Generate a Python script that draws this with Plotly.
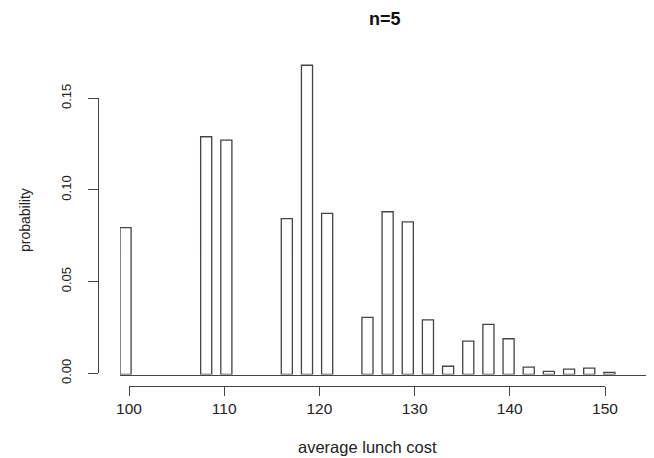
import plotly.graph_objects as go

# data
costs = [100, 108, 110, 116, 118, 120, 124, 126, 128, 130, 132, 134, 136, 138, 140, 142, 144, 146, 148]
probs = [0.0801, 0.1297, 0.1279, 0.0850, 0.1687, 0.0879, 0.0312, 0.0888, 0.0833, 0.0298,
         0.0045, 0.0182, 0.0273, 0.0195, 0.0040, 0.0017, 0.0029, 0.0035, 0.0012]
x_ticks = [100, 110, 120, 130, 140, 150]
y_ticks = [0.00, 0.05, 0.10, 0.15]
y_tick_text = ["0.00", "0.05", "0.10", "0.15"]

W, H = 654, 458
FONT = "Liberation Sans, Arial, sans-serif"
LINE = "#444444"

def px(x):
    return x / W

def py(y):
    return 1 - y / H

fig = go.Figure()

fig.add_trace(go.Bar(
    x=costs, y=probs, width=1.1,
    marker=dict(color="white", line=dict(color=LINE, width=1.3)),
    xaxis="x", yaxis="y", showlegend=False, hoverinfo="x+y",
))

# invisible traces that carry the R-style tick axes
fig.add_trace(go.Scatter(x=[], y=[], xaxis="x2", yaxis="y2", showlegend=False))
fig.add_trace(go.Scatter(x=[], y=[], xaxis="x3", yaxis="y2", showlegend=False))

fig.update_layout(
    width=W, height=H,
    margin=dict(l=0, r=0, t=0, b=0, autoexpand=False),
    paper_bgcolor="white", plot_bgcolor="rgba(0,0,0,0)",
    font=dict(family=FONT, color="#222"),
    xaxis=dict(domain=[px(120), px(646)], range=[99.45, 99.45 + 526 / 10.08],
               showline=True, linecolor=LINE, linewidth=1.3, showgrid=False,
               zeroline=False, showticklabels=False, ticks="", anchor="y",
               automargin=False),
    yaxis=dict(domain=[py(374.5), 1.0], range=[0, 374.5 / 1833],
               showline=False, showgrid=False, zeroline=False,
               showticklabels=False, ticks="", anchor="x", automargin=False),
    xaxis2=dict(domain=[px(129), px(605)], range=[100, 150], anchor="free",
                position=py(385.7), tickvals=x_ticks, ticks="outside", ticklen=9,
                tickwidth=1.3, tickcolor=LINE, showline=True, linecolor=LINE,
                linewidth=1.3, showgrid=False, zeroline=False, automargin=False,
                tickfont=dict(size=15.5, family=FONT, color="#222")),
    xaxis3=dict(domain=[px(99), px(605)], range=[0, 1], anchor="y2",
                visible=False, automargin=False),
    yaxis2=dict(domain=[py(373.3), py(98.3)], range=[0, 0.15], anchor="x3",
                tickvals=y_ticks, ticktext=y_tick_text,
                ticks="outside", ticklen=10, tickwidth=1.3, tickcolor=LINE,
                showline=True, linecolor=LINE, linewidth=1.3, showgrid=False,
                zeroline=False, tickangle=-90, automargin=False,
                ticklabelstandoff=12,
                tickfont=dict(size=13, family=FONT, color="#222")),
    annotations=[
        dict(text="<b>n=5</b>", x=px(385), y=py(19), xref="paper", yref="paper",
             xanchor="center", yanchor="middle",
             showarrow=False, font=dict(size=18, family=FONT, color="#111")),
        dict(text="average lunch cost", x=px(367), y=py(446.5), xref="paper", yref="paper",
             xanchor="center", yanchor="middle",
             showarrow=False, font=dict(size=16.5, family=FONT, color="#222")),
        dict(text="probability", x=px(25), y=py(220), xref="paper", yref="paper",
             xanchor="center", yanchor="middle",
             showarrow=False, textangle=-90, font=dict(size=14, family=FONT, color="#222")),
    ],
)

fig.write_html("out.html")
